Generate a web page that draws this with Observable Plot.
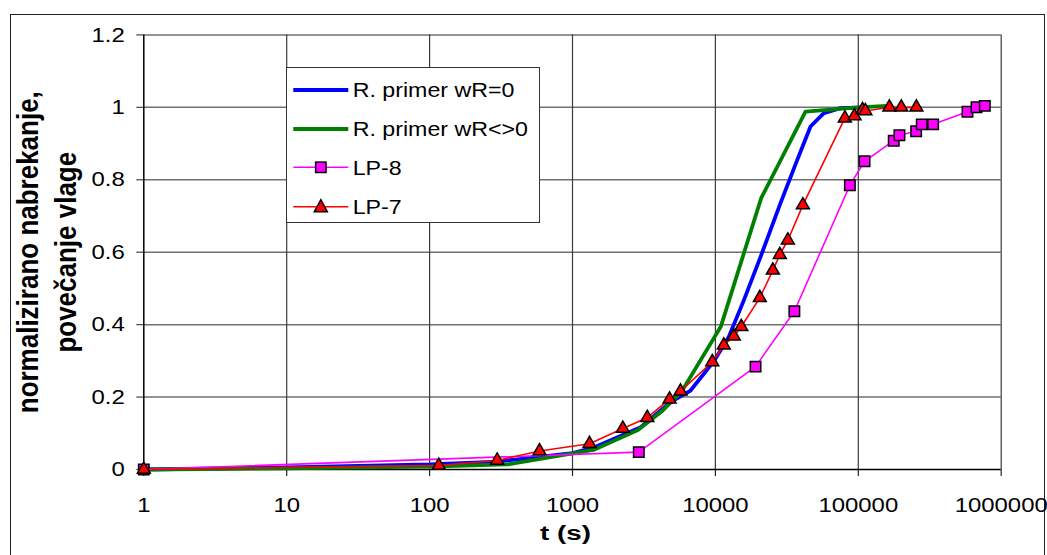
<!DOCTYPE html>
<html>
<head>
<meta charset="utf-8">
<script src="https://cdn.jsdelivr.net/npm/d3@7"></script>
<script src="https://cdn.jsdelivr.net/npm/@observablehq/plot@0.6"></script>
<style>
  html, body { margin: 0; padding: 0; background: #fff; overflow: hidden; }
  #wrap { position: relative; width: 1047px; height: 555px; font-family: "Liberation Sans", Arial, sans-serif; }
  #border { position: absolute; left: 10px; top: 14px; width: 1035px; height: 620px; border: 1px solid #222; box-sizing: border-box; }
  #chart { position: absolute; left: 0; top: 0; }
  #legend { position: absolute; left: 286px; top: 67px; width: 254px; height: 156px; box-sizing: border-box; border: 1px solid #333; background: #fff; }
</style>
</head>
<body>
<div id="wrap">
  <div id="border"></div>
  <div id="chart"></div>
  <div id="legend"></div>
</div>
<script>
// ---- data ----
const xTicks = [1, 10, 100, 1000, 10000, 100000, 1000000];
const xTickLabels = ["1", "10", "100", "1000", "10000", "100000", "1000000"];
const yTicks = [0, 0.2, 0.4, 0.6, 0.8, 1, 1.2];
const yTickLabels = ["0", "0.2", "0.4", "0.6", "0.8", "1", "1.2"];

const seriesNames = ["R. primer wR=0", "R. primer wR<>0", "LP-8", "LP-7"];

const tBlue = [1, 10, 100, 300, 1000, 1400, 3000, 4850, 6700, 9800, 12400, 15800, 20700, 28500, 37400, 46300, 57400, 75000, 110000];
const yBlue = [0, 0.006, 0.014, 0.022, 0.045, 0.06, 0.117, 0.186, 0.218, 0.30, 0.366, 0.467, 0.587, 0.735, 0.855, 0.947, 0.984, 0.998, 1.0];

const tGreen = [1, 10, 100, 350, 1400, 2840, 4200, 5800, 10900, 20900, 42700, 100000, 160000];
const yGreen = [0, 0.003, 0.008, 0.014, 0.054, 0.108, 0.16, 0.215, 0.394, 0.749, 0.988, 1.0, 1.004];

const tLP8 = [1, 2910, 19100, 35700, 87300, 110600, 177000, 194000, 254000, 278000, 334000, 581000, 672000, 768000];
const yLP8 = [0, 0.048, 0.284, 0.437, 0.785, 0.851, 0.908, 0.923, 0.934, 0.953, 0.953, 0.988, 1.0, 1.004];

const tLP7 = [1, 116, 297, 588, 1315, 2250, 3336, 4780, 5700, 9510, 11450, 13460, 15170, 20460, 25240, 28240, 32140, 40930, 80500, 94000, 107000, 112000, 165000, 200000, 255000];
const yLP7 = [0, 0.011, 0.025, 0.051, 0.071, 0.113, 0.143, 0.194, 0.216, 0.297, 0.343, 0.368, 0.394, 0.474, 0.55, 0.593, 0.633, 0.730, 0.970, 0.976, 0.993, 0.99, 1.0, 1.0, 1.0];

const xTitle = "t (s)";
const yTitle = "normalizirano nabrekanje,\npovečanje vlage";

const colors = ["#0000ff", "#008000", "#ff00ff", "#ff0000"];

// ---- build tables ----
const toRows = (ts, ys) => ts.map((t, i) => ({t, v: ys[i]}));
const blue = toRows(tBlue, yBlue);
const green = toRows(tGreen, yGreen);
const lp8 = toRows(tLP8, yLP8);
const lp7 = toRows(tLP7, yLP7);

const FONT = "'Liberation Sans', Arial, sans-serif";

const chart = Plot.plot({
  width: 1047,
  height: 555,
  marginLeft: 143.3,
  marginRight: 46.3,
  marginTop: 34.4,
  marginBottom: 86,
  style: {fontFamily: FONT, background: "transparent", color: "#000"},
  x: {type: "log", domain: [1, 1000000]},
  y: {domain: [0, 1.2]},
  marks: [
    Plot.ruleY(yTicks.slice(1), {stroke: "#707070", strokeWidth: 1.5}),
    Plot.ruleX(xTicks.slice(1), {stroke: "#3a3a3a", strokeWidth: 1.2}),
    Plot.axisY({ticks: yTicks, tickFormat: d => yTickLabels[yTicks.indexOf(d)], tickSize: 7, tickPadding: 12, fontSize: 21, label: null, stroke: "#444", strokeWidth: 1.2}),
    Plot.axisX({ticks: xTicks, tickFormat: d => xTickLabels[xTicks.indexOf(d)], tickSize: 7, tickPadding: 21, fontSize: 21, label: null, stroke: "#222", strokeWidth: 1.2}),
    Plot.ruleX([1], {stroke: "#000", strokeWidth: 1.5}),
    Plot.ruleY([0], {stroke: "#000", strokeWidth: 1.5}),
    Plot.line(blue, {x: "t", y: "v", stroke: colors[0], strokeWidth: 3.8}),
    Plot.line(green, {x: "t", y: "v", stroke: colors[1], strokeWidth: 3.8}),
    Plot.line(lp8, {x: "t", y: "v", stroke: colors[2], strokeWidth: 1.6}),
    Plot.dot(lp8, {x: "t", y: "v", symbol: "square", r: 5.9, fill: colors[2], stroke: "#000", strokeWidth: 1.5}),
    Plot.line(lp7, {x: "t", y: "v", stroke: colors[3], strokeWidth: 1.6}),
    Plot.dot(lp7, {x: "t", y: "v", symbol: "triangle", r: 4.8, fill: colors[3], stroke: "#000", strokeWidth: 1.5}),
    Plot.text([yTitle], {text: d => d, frameAnchor: "left", rotate: -90, dx: -99, textAnchor: "middle", lineAnchor: "middle", lineHeight: 1.3, fontSize: 26, fontWeight: "bold", fill: "#000"}),
    Plot.text([xTitle], {text: d => d, frameAnchor: "bottom", dx: -7, dy: 64, textAnchor: "middle", lineAnchor: "middle", fontSize: 21, fontWeight: "bold", fill: "#000"})
  ]
});
document.getElementById("chart").appendChild(chart);

// horizontal stretch of the text glyphs (the reference is wider than tall),
// done with a wrapper group around each text, scaled about an anchor x.
const ns = "http://www.w3.org/2000/svg";
function stretch(el, sx, anchor) {
  const r = el.getBoundingClientRect();
  const ax = anchor === "end" ? r.right : r.left + r.width / 2;
  const m = el.parentNode.getScreenCTM().inverse();
  const p = new DOMPoint(ax, r.top).matrixTransform(m);
  const g = document.createElementNS(ns, "g");
  g.setAttribute("transform", `translate(${p.x},0) scale(${sx},1) translate(${-p.x},0)`);
  el.parentNode.insertBefore(g, el);
  g.appendChild(el);
}
Array.from(chart.querySelectorAll("text")).forEach(el => {
  const label = el.parentNode.getAttribute("aria-label") || "";
  const txt = el.textContent;
  if (label.includes("y-axis tick label")) stretch(el, 1.14, "end");
  else if (label.includes("x-axis tick label")) stretch(el, 1.14, "middle");
  else if (txt.startsWith("t (")) stretch(el, 1.32, "middle");
  else if (txt.startsWith("normalizirano")) stretch(el, 1.12, "middle");
});

// ---- legend ----
const lg = document.createElementNS(ns, "svg");
lg.setAttribute("width", 252);
lg.setAttribute("height", 154);
lg.style.display = "block";
const rowY = [22, 61, 99.3, 138.7];
const widths = [3.8, 3.8, 1.6, 1.6];
seriesNames.forEach((name, i) => {
  const y = rowY[i];
  const ln = document.createElementNS(ns, "line");
  ln.setAttribute("x1", 6.3); ln.setAttribute("x2", 61.3);
  ln.setAttribute("y1", y); ln.setAttribute("y2", y);
  ln.setAttribute("stroke", colors[i]); ln.setAttribute("stroke-width", widths[i]);
  lg.appendChild(ln);
  if (i === 2) {
    const r = document.createElementNS(ns, "rect");
    r.setAttribute("x", 33.8 - 5.2); r.setAttribute("y", y - 5.2);
    r.setAttribute("width", 10.4); r.setAttribute("height", 10.4);
    r.setAttribute("fill", colors[2]); r.setAttribute("stroke", "#000"); r.setAttribute("stroke-width", 1.5);
    lg.appendChild(r);
  }
  if (i === 3) {
    const p = document.createElementNS(ns, "path");
    p.setAttribute("d", `M${33.8},${y - 7}L${33.8 + 6.5},${y + 5}L${33.8 - 6.5},${y + 5}Z`);
    p.setAttribute("fill", colors[3]); p.setAttribute("stroke", "#000"); p.setAttribute("stroke-width", 1.5);
    lg.appendChild(p);
  }
  const tx = document.createElementNS(ns, "text");
  tx.setAttribute("transform", `translate(65.7,${y + 7.2}) scale(1.16,1)`);
  tx.setAttribute("font-size", 20);
  tx.setAttribute("font-family", FONT);
  tx.setAttribute("fill", "#000");
  tx.textContent = name;
  lg.appendChild(tx);
});
document.getElementById("legend").appendChild(lg);
</script>
</body>
</html>
